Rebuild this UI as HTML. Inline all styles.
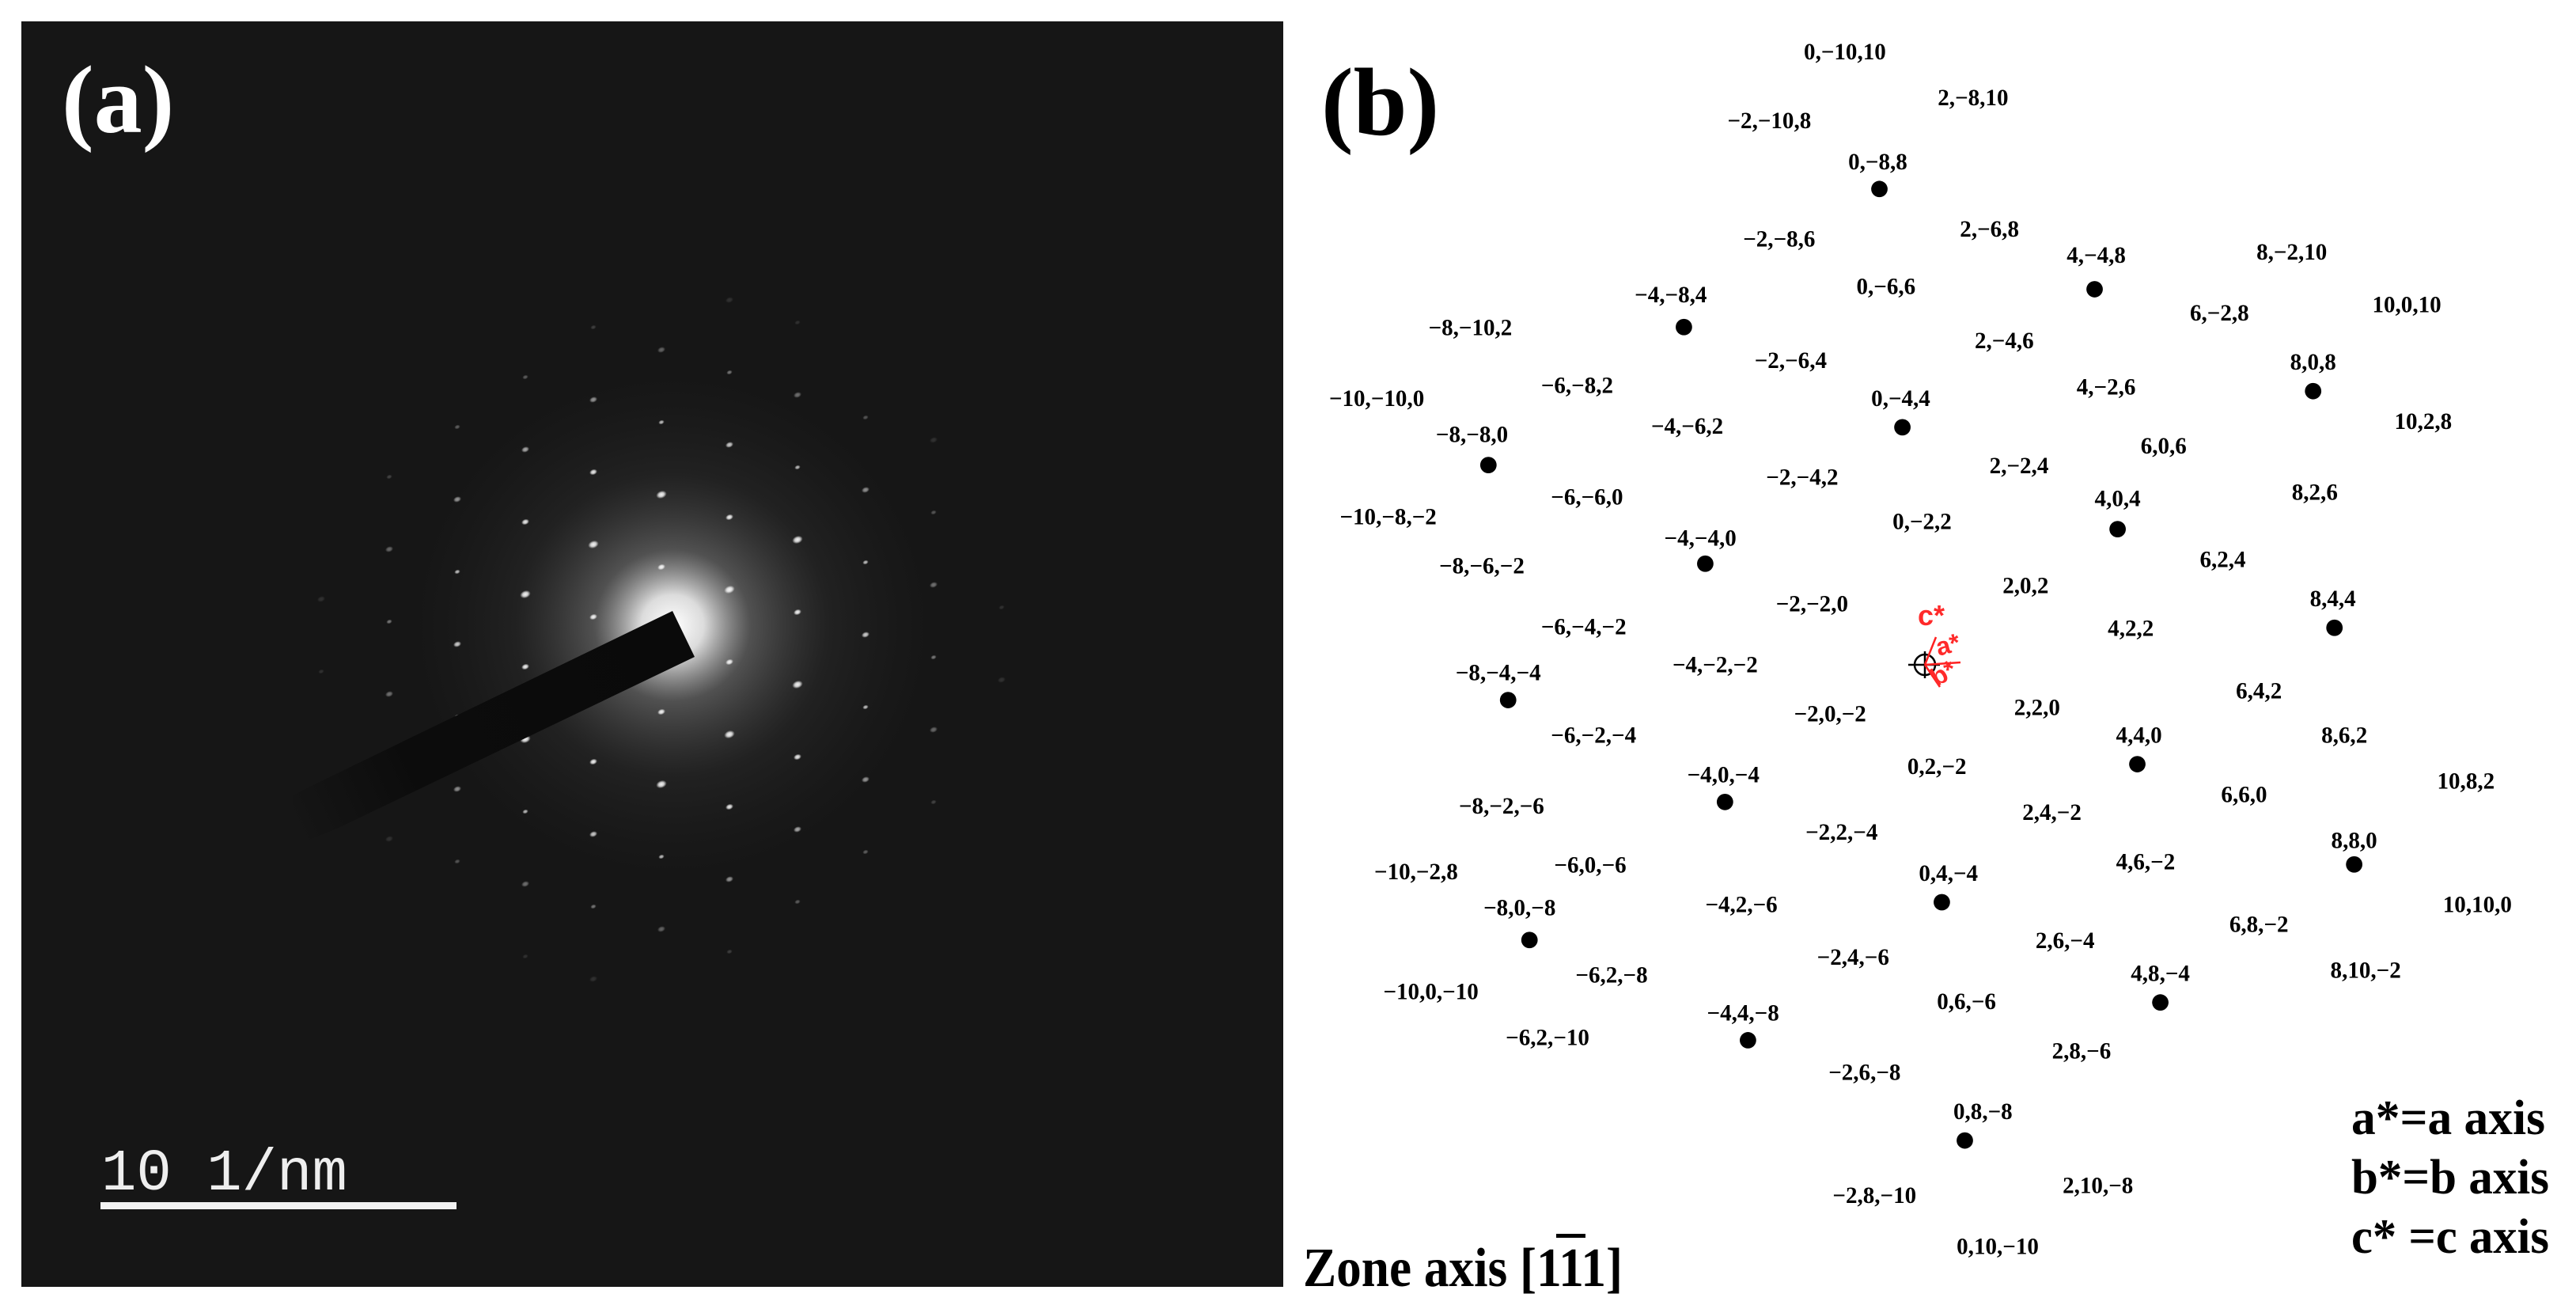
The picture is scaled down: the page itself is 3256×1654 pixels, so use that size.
<!DOCTYPE html>
<html><head><meta charset="utf-8"><style>
html,body{margin:0;padding:0;background:#fff;width:3256px;height:1654px;overflow:hidden}
svg{display:block}
</style></head><body>
<svg xmlns="http://www.w3.org/2000/svg" width="3256" height="1654" viewBox="0 0 3256 1654">
<defs>
<radialGradient id="glow" cx="0.5" cy="0.5" r="0.5">
<stop offset="0" stop-color="#ffffff" stop-opacity="1"/>
<stop offset="0.12" stop-color="#ffffff" stop-opacity="0.85"/>
<stop offset="0.3" stop-color="#999999" stop-opacity="0.45"/>
<stop offset="0.6" stop-color="#555555" stop-opacity="0.18"/>
<stop offset="1" stop-color="#333333" stop-opacity="0"/>
</radialGradient>
<radialGradient id="spot" cx="0.5" cy="0.5" r="0.5">
<stop offset="0" stop-color="#ffffff" stop-opacity="1"/>
<stop offset="0.5" stop-color="#ffffff" stop-opacity="0.8"/>
<stop offset="1" stop-color="#ffffff" stop-opacity="0"/>
</radialGradient>
<linearGradient id="stopfade" x1="876" y1="800" x2="370" y2="1040" gradientUnits="userSpaceOnUse">
<stop offset="0" stop-color="#0a0a0a"/>
<stop offset="0.7" stop-color="#0c0c0c"/>
<stop offset="1" stop-color="#161616"/>
</linearGradient>
</defs>
<rect x="27" y="27" width="1595" height="1599" fill="#161616"/>
<ellipse cx="850" cy="790" rx="330" ry="320" fill="url(#glow)"/>
<g id="spots"></g>
<polygon points="850,772 878,830 430,1045 370,1070 370,1005 410,985" fill="url(#stopfade)"/>
<text x="78" y="167" font-family="Liberation Serif, serif" font-weight="bold" font-size="122" fill="#fff">(a)</text>
<text x="128" y="1503" font-family="Liberation Mono, monospace" font-size="74" fill="#eee">10 1/nm</text>
<rect x="127" y="1519" width="450" height="9" fill="#f2f2f2"/>

<text x="1670" y="170" font-family="Liberation Serif, serif" font-weight="bold" font-size="122" fill="#000">(b)</text>
<text x="1647" y="1625" font-family="Liberation Serif, serif" font-weight="bold" font-size="70" fill="#000" textLength="404" lengthAdjust="spacingAndGlyphs">Zone axis [111]</text>
<rect x="1967" y="1559" width="37" height="5" fill="#000"/>
<g font-family="Liberation Serif, serif" font-weight="bold" font-size="62" fill="#000">
<text x="2972" y="1433" textLength="245" lengthAdjust="spacingAndGlyphs">a*=a axis</text>
<text x="2972" y="1508" textLength="250" lengthAdjust="spacingAndGlyphs">b*=b axis</text>
<text x="2972" y="1583" textLength="250" lengthAdjust="spacingAndGlyphs">c* =c axis</text>
</g>
<g stroke="#000" stroke-width="2.5" fill="none">
<circle cx="2433" cy="840" r="13"/>
<line x1="2412" y1="840" x2="2452" y2="840"/>
<line x1="2433" y1="823" x2="2433" y2="857"/>
</g>
<g stroke="#ff2020" stroke-width="2.5" fill="none">
<line x1="2433" y1="840" x2="2447" y2="805"/>
<line x1="2433" y1="840" x2="2478" y2="837"/>
<line x1="2433" y1="840" x2="2452" y2="868"/>
</g>
<g font-family="Liberation Sans, sans-serif" font-weight="bold" fill="#ff2a2a">
<text x="2424" y="790" font-size="36">c*</text>
<text x="2447" y="826" font-size="32" transform="rotate(-15 2460 815)">a*</text>
<text x="2440" y="862" font-size="32" transform="rotate(-30 2455 850)">b*</text>
</g>

<g transform="scale(2.0765)">
<g fill="#000">
<circle cx="1144" cy="115" r="5"/><circle cx="1275" cy="176" r="5"/><circle cx="1025" cy="199" r="5"/>
<circle cx="1408" cy="238" r="5"/><circle cx="1158" cy="260" r="5"/><circle cx="906" cy="283" r="5"/>
<circle cx="1289" cy="322" r="5"/><circle cx="1038" cy="343" r="5"/><circle cx="1421" cy="382" r="5"/>
<circle cx="918" cy="426" r="5"/><circle cx="1301" cy="465" r="5"/><circle cx="1050" cy="488" r="5"/>
<circle cx="1433" cy="526" r="5"/><circle cx="1182" cy="549" r="5"/><circle cx="931" cy="572" r="5"/>
<circle cx="1315" cy="610" r="5"/><circle cx="1064" cy="633" r="5"/><circle cx="1196" cy="694" r="5"/>
</g>
<g font-family="Liberation Serif, serif" font-weight="bold" font-size="14" fill="#000" text-anchor="middle">
<text x="1123" y="36">0,−10,10</text>
<text x="1201" y="64">2,−8,10</text>
<text x="1077" y="78">−2,−10,8</text>
<text x="1143" y="103">0,−8,8</text>
<text x="1211" y="144">2,−6,8</text>
<text x="1083" y="150">−2,−8,6</text>
<text x="1276" y="160">4,−4,8</text>
<text x="1395" y="158">8,−2,10</text>
<text x="1017" y="184">−4,−8,4</text>
<text x="1148" y="179">0,−6,6</text>
<text x="1351" y="195">6,−2,8</text>
<text x="1465" y="190">10,0,10</text>
<text x="895" y="204">−8,−10,2</text>
<text x="1220" y="212">2,−4,6</text>
<text x="1090" y="224">−2,−6,4</text>
<text x="1408" y="225">8,0,8</text>
<text x="960" y="239">−6,−8,2</text>
<text x="1282" y="240">4,−2,6</text>
<text x="1157" y="247">0,−4,4</text>
<text x="838" y="247">−10,−10,0</text>
<text x="1027" y="264">−4,−6,2</text>
<text x="1475" y="261">10,2,8</text>
<text x="896" y="269">−8,−8,0</text>
<text x="1317" y="276">6,0,6</text>
<text x="1229" y="288">2,−2,4</text>
<text x="1097" y="295">−2,−4,2</text>
<text x="1409" y="304">8,2,6</text>
<text x="966" y="307">−6,−6,0</text>
<text x="1289" y="308">4,0,4</text>
<text x="845" y="319">−10,−8,−2</text>
<text x="1170" y="322">0,−2,2</text>
<text x="1035" y="332">−4,−4,0</text>
<text x="1353" y="345">6,2,4</text>
<text x="902" y="349">−8,−6,−2</text>
<text x="1233" y="361">2,0,2</text>
<text x="1103" y="372">−2,−2,0</text>
<text x="1420" y="369">8,4,4</text>
<text x="964" y="386">−6,−4,−2</text>
<text x="1297" y="387">4,2,2</text>
<text x="912" y="414">−8,−4,−4</text>
<text x="1044" y="409">−4,−2,−2</text>
<text x="1375" y="425">6,4,2</text>
<text x="1240" y="435">2,2,0</text>
<text x="1114" y="439">−2,0,−2</text>
<text x="970" y="452">−6,−2,−4</text>
<text x="1427" y="452">8,6,2</text>
<text x="1302" y="452">4,4,0</text>
<text x="1179" y="471">0,2,−2</text>
<text x="1501" y="480">10,8,2</text>
<text x="1049" y="476">−4,0,−4</text>
<text x="1366" y="488">6,6,0</text>
<text x="914" y="495">−8,−2,−6</text>
<text x="1249" y="499">2,4,−2</text>
<text x="1121" y="511">−2,2,−4</text>
<text x="1433" y="516">8,8,0</text>
<text x="862" y="535">−10,−2,8</text>
<text x="968" y="531">−6,0,−6</text>
<text x="1306" y="529">4,6,−2</text>
<text x="1186" y="536">0,4,−4</text>
<text x="1508" y="555">10,10,0</text>
<text x="925" y="557">−8,0,−8</text>
<text x="1060" y="555">−4,2,−6</text>
<text x="1375" y="567">6,8,−2</text>
<text x="1257" y="577">2,6,−4</text>
<text x="1128" y="587">−2,4,−6</text>
<text x="981" y="598">−6,2,−8</text>
<text x="1440" y="595">8,10,−2</text>
<text x="1315" y="597">4,8,−4</text>
<text x="871" y="608">−10,0,−10</text>
<text x="1197" y="614">0,6,−6</text>
<text x="1061" y="621">−4,4,−8</text>
<text x="942" y="636">−6,2,−10</text>
<text x="1267" y="644">2,8,−6</text>
<text x="1135" y="657">−2,6,−8</text>
<text x="1207" y="681">0,8,−8</text>
<text x="1277" y="726">2,10,−8</text>
<text x="1141" y="732">−2,8,−10</text>
<text x="1216" y="763">0,10,−10</text>
</g>
</g>
</svg>
<script>
(function(){
var g=document.getElementById('spots');
var C=[836,808],A=[86,28.5],B=[0,-91.5],s='';
for(var i=-7;i<=7;i++)for(var j=-7;j<=7;j++){
 if(i==0&&j==0)continue;
 var x=C[0]+i*A[0]+j*B[0],y=C[1]+i*A[1]+j*B[1];
 var d=Math.hypot(x-C[0],y-C[1]);
 if(d>440)continue;
 var op=d<220?0.95:Math.max(0.12,0.95-(d-220)/240);
 var big=((i+j)%2==0)?1.15:0.85;
 var rx=6*big*(d<250?1:0.75),ry=4.2*big*(d<250?1:0.75);
 s+='<ellipse cx="'+x.toFixed(1)+'" cy="'+y.toFixed(1)+'" rx="'+rx.toFixed(1)+'" ry="'+ry.toFixed(1)+'" fill="url(#spot)" opacity="'+op.toFixed(2)+'" transform="rotate(-20 '+x.toFixed(1)+' '+y.toFixed(1)+')"/>';
}
g.innerHTML=s;
})();
</script>
</body></html>
